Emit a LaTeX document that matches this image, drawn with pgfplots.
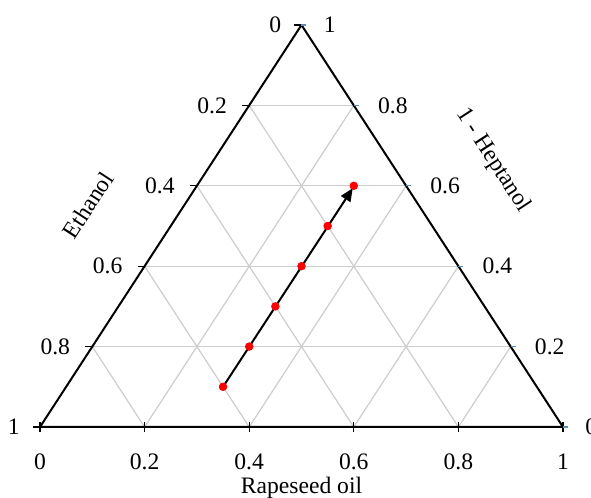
\documentclass[border=0pt]{standalone}
\usepackage{pgfplots}
\pgfplotsset{compat=1.18}
\usepackage{fontspec}
\setmainfont{Liberation Serif}
\usetikzlibrary{arrows.meta}
\definecolor{gridc}{RGB}{205,205,205}
\definecolor{tickb}{RGB}{91,140,190}
\begin{document}
\fontsize{11.8}{14}\selectfont
\begin{tikzpicture}
\begin{axis}[
  scale only axis, width=261.5pt, height=201pt,
  at={(0pt,0pt)}, anchor=south west,
  xmin=0, xmax=1, ymin=0, ymax=1,
  hide axis, clip=false,
]
% horizontal grid (constant 1-Heptanol)
\addplot[gridc, line width=0.6pt] coordinates {(0.1,0.2) (0.9,0.2)};
\addplot[gridc, line width=0.6pt] coordinates {(0.2,0.4) (0.8,0.4)};
\addplot[gridc, line width=0.6pt] coordinates {(0.3,0.6) (0.7,0.6)};
\addplot[gridc, line width=0.6pt] coordinates {(0.4,0.8) (0.6,0.8)};
% constant rapeseed oil
\addplot[gridc, line width=0.6pt] coordinates {(0.2,0) (0.6,0.8)};
\addplot[gridc, line width=0.6pt] coordinates {(0.4,0) (0.7,0.6)};
\addplot[gridc, line width=0.6pt] coordinates {(0.6,0) (0.8,0.4)};
\addplot[gridc, line width=0.6pt] coordinates {(0.8,0) (0.9,0.2)};
% constant ethanol
\addplot[gridc, line width=0.6pt] coordinates {(0.8,0) (0.4,0.8)};
\addplot[gridc, line width=0.6pt] coordinates {(0.6,0) (0.3,0.6)};
\addplot[gridc, line width=0.6pt] coordinates {(0.4,0) (0.2,0.4)};
\addplot[gridc, line width=0.6pt] coordinates {(0.2,0) (0.1,0.2)};
% triangle
\addplot[black, line width=1pt, line join=round, line cap=round] coordinates {(0,0) (1,0) (0.5,1) (0,0)};
% ticks
\foreach \t in {0,0.2,0.4,0.6,0.8,1}{
  \edef\temp{\noexpand\draw[black, line width=0.6pt] (axis cs:\t,-0.013) -- (axis cs:\t,0.013);}\temp
}
\foreach \t in {0,0.2,0.4,0.6,0.8,1}{
  \edef\temp{\noexpand\draw[black, line width=0.6pt] (axis cs:{\t/2},\t) -- ++(-3.5pt,0);}\temp
  \edef\temp{\noexpand\draw[tickb, line width=0.6pt] (axis cs:{1-\t/2},\t) -- ++(2.5pt,0);}\temp
}
% arrow
\addplot[black, line width=1pt, -{Triangle[length=6.5pt,width=5.5pt]}] coordinates {(0.35,0.1) (0.598,0.594)};
% data
\addplot[only marks, mark=*, mark size=1.9pt, color=red, mark options={fill=red, draw=red}] coordinates {
(0.35,0.1) (0.40,0.2) (0.45,0.3) (0.50,0.4) (0.55,0.5) (0.60,0.6)};
% bottom labels
\node at (axis cs:0,-0.087) {0};
\node at (axis cs:0.2,-0.087) {0.2};
\node at (axis cs:0.4,-0.087) {0.4};
\node at (axis cs:0.6,-0.087) {0.6};
\node at (axis cs:0.8,-0.087) {0.8};
\node at (axis cs:1,-0.087) {1};
\node at (axis cs:0.5,-0.152) {Rapeseed oil};
% left labels (Ethanol)
\node[anchor=east] at ([xshift=-6pt]axis cs:0,0) {1};
\node[anchor=east] at ([xshift=-7pt]axis cs:0.1,0.2) {0.8};
\node[anchor=east] at ([xshift=-7pt]axis cs:0.2,0.4) {0.6};
\node[anchor=east] at ([xshift=-7pt]axis cs:0.3,0.6) {0.4};
\node[anchor=east] at ([xshift=-7pt]axis cs:0.4,0.8) {0.2};
\node[anchor=east] at ([xshift=-6pt]axis cs:0.5,1) {0};
% right labels (1-Heptanol)
\node[anchor=west] at ([xshift=7pt]axis cs:1,0) {0};
\node[anchor=west] at ([xshift=8pt]axis cs:0.9,0.2) {0.2};
\node[anchor=west] at ([xshift=8pt]axis cs:0.8,0.4) {0.4};
\node[anchor=west] at ([xshift=8pt]axis cs:0.7,0.6) {0.6};
\node[anchor=west] at ([xshift=8pt]axis cs:0.6,0.8) {0.8};
\node[anchor=west] at ([xshift=7pt]axis cs:0.5,1) {1};
% axis titles
\node[rotate=57] at (axis cs:0.092,0.552) {Ethanol};
\node[rotate=-57] at (axis cs:0.866,0.664) {1 - Heptanol};
\end{axis}
\pgfresetboundingbox
\useasboundingbox (-20pt,-35.5pt) rectangle (275.5pt,213.5pt);
\end{tikzpicture}
\end{document}
